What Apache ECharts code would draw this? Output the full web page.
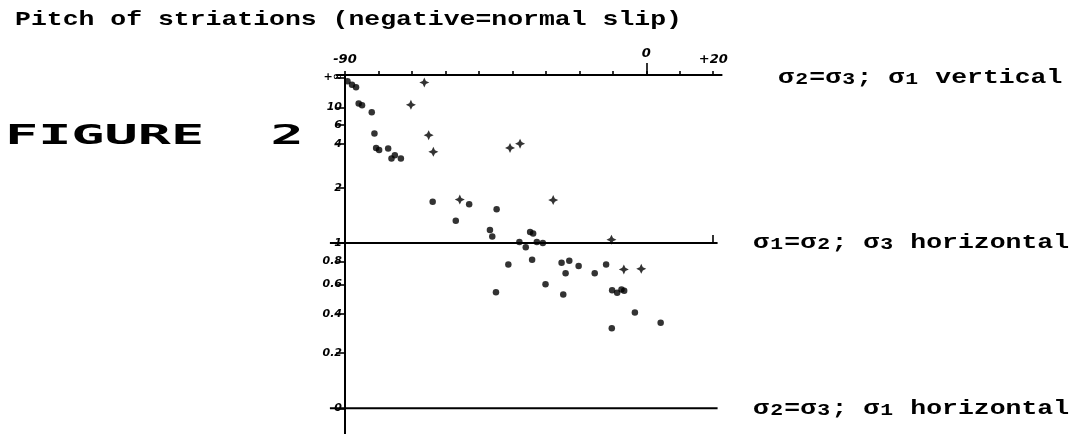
<!DOCTYPE html>
<html>
<head>
<meta charset="utf-8">
<script src="https://cdn.jsdelivr.net/npm/echarts@6/dist/echarts.min.js"></script>
<style>
  html, body { margin: 0; padding: 0; background: #fff; }
  #chart { width: 1080px; height: 434px; }
</style>
</head>
<body>
<div id="chart"></div>
<script>
// Pitch of striations (degrees) on the x axis, stress ratio R on the y axis.
const pitchTicks = [-90, -80, -70, -60, -50, -40, -30, -20, -10, 0, 10, 20];
const pitchMajor = [-90, 20];
const pitchZero = [0];
const ratioTicks = [0, 0.2, 0.4, 0.6, 0.8, 1, 2, 4, 6, 10, Infinity];
const ratioLabels = ['0', '0.2', '0.4', '0.6', '0.8', '1', '2', '4', '6', '10', '+\u221e'];

// Measurements shown as dots
const dotPitch = [-89.25, -87.9, -86.7, -85.9, -84.9, -82.0, -81.2, -80.7, -79.8, -77.1,
  -76.1, -75.1, -73.3, -63.8, -56.9, -52.9, -44.7, -46.7, -46.0, -37.9,
  -36.0, -34.7, -33.8, -32.7, -30.9, -41.2, -34.1, -25.3, -23.0, -24.1,
  -20.2, -15.4, -12.0, -44.9, -30.1, -24.8, -10.2, -8.7, -7.4, -6.6,
  -3.4, 4.3, -10.3];
const dotRatio = [88, 45, 33, 11.7, 10.9, 8.5, 4.9, 3.7, 3.57, 3.66,
  3.09, 3.26, 3.09, 1.66, 1.31, 1.61, 1.51, 1.17, 1.08, 1.01,
  0.95, 1.14, 1.12, 1.01, 1.0, 0.77, 0.815, 0.785, 0.805, 0.69,
  0.754, 0.69, 0.77, 0.54, 0.60, 0.525, 0.556, 0.537, 0.561, 0.551,
  0.408, 0.349, 0.32];

// Measurements shown as crosses
const plusPitch = [-66.3, -70.3, -65.0, -63.6, -55.7, -40.7, -37.7, -27.8, -10.4, -6.7, -1.5];
const plusRatio = [65, 11.1, 4.74, 3.45, 1.71, 3.7, 4.0, 1.7, 1.04, 0.724, 0.729];

// Reference states of stress
const guideRatios = [Infinity, 1, 0];
const guideNotes = [
  '\u03c3{s|2}=\u03c3{s|3}; \u03c3{s|1} vertical',
  '\u03c3{s|1}=\u03c3{s|2}; \u03c3{s|3} horizontal',
  '\u03c3{s|2}=\u03c3{s|3}; \u03c3{s|1} horizontal'
];
const guideLineRatios = [1, 0];

// R is drawn on the (R-1)/(R+1) scale: 0 -> -1, 1 -> 0, infinity -> +1
function ratioToScale(r) {
  return r === Infinity ? 1 : (r - 1) / (r + 1);
}
const scaleTicks = ratioTicks.map(ratioToScale);
function scaleLabel(v) {
  for (let i = 0; i < scaleTicks.length; i++) {
    if (Math.abs(scaleTicks[i] - v) < 1e-6) return ratioLabels[i];
  }
  return '';
}

const X_MIN = -92.5, X_MAX = 22.5;
const printFont = { fontFamily: '"Liberation Mono", monospace', fontWeight: 'bold' };
const tickFont = { fontFamily: '"DejaVu Sans", sans-serif', fontStyle: 'italic', fontWeight: 'bold', fontSize: 11, color: '#000' };
const PRINT_SIZE = 21;
const PRINT_STRETCH = 1.26;

const chart = echarts.init(document.getElementById('chart'), null, { renderer: 'canvas' });

function extraTopAxis(values, len, margin, labels) {
  return {
    type: 'value', position: 'top', min: X_MIN, max: X_MAX,
    axisLine: { show: false },
    splitLine: { show: false },
    axisTick: { show: true, inside: false, length: len, customValues: values,
      lineStyle: { color: '#000', width: 1.6 } },
    axisLabel: Object.assign({ show: true, customValues: values, margin: margin,
      formatter: function (v) { return labels[values.indexOf(Math.round(v))] || ''; } }, tickFont, { fontSize: 13 })
  };
}

chart.setOption({
  animation: false,
  backgroundColor: '#fff',
  grid: { left: 336.6, right: 358.4, top: 75, bottom: 0, containLabel: false },
  xAxis: [
    {
      type: 'value', position: 'top', min: X_MIN, max: X_MAX,
      axisLine: { show: true, onZero: false, lineStyle: { color: '#000', width: 2 } },
      splitLine: { show: false },
      axisTick: { show: true, inside: false, length: 4, customValues: pitchTicks,
        lineStyle: { color: '#000', width: 1.6 } },
      axisLabel: { show: false }
    },
    extraTopAxis(pitchMajor, 8, 9, ['-90', '+20']),
    extraTopAxis(pitchZero, 12, 15, ['0'])
  ],
  yAxis: {
    type: 'value', min: -1.155, max: 1.015, offset: -8.4,
    axisLine: { show: true, onZero: false, lineStyle: { color: '#000', width: 2 } },
    splitLine: { show: false },
    axisTick: { show: true, inside: false, length: 9, customValues: scaleTicks,
      lineStyle: { color: '#000', width: 1.6 } },
    axisLabel: Object.assign({ show: true, customValues: scaleTicks, margin: 3,
      formatter: scaleLabel }, tickFont)
  },
  series: [
    {
      type: 'scatter', xAxisIndex: 0, yAxisIndex: 0,
      symbol: 'circle', symbolSize: 6.5,
      itemStyle: { color: '#000' },
      data: dotPitch.map(function (p, i) { return [p, ratioToScale(dotRatio[i])]; })
    },
    {
      type: 'scatter', xAxisIndex: 0, yAxisIndex: 0,
      symbol: 'path://M5,0 L6.6,3.4 L10,5 L6.6,6.6 L5,10 L3.4,6.6 L0,5 L3.4,3.4 Z',
      symbolSize: 10,
      itemStyle: { color: '#000' },
      data: plusPitch.map(function (p, i) { return [p, ratioToScale(plusRatio[i])]; })
    }
  ]
});

// Reference lines and captions placed through the chart's own scales
function px(x, r) {
  return chart.convertToPixel({ xAxisIndex: 0, yAxisIndex: 0 }, [x, ratioToScale(r)]);
}
const graphics = [];
guideLineRatios.forEach(function (r) {
  const a = px(-94.5, r), b = px(21.3, r);
  graphics.push({ type: 'line', shape: { x1: a[0], y1: a[1], x2: b[0], y2: b[1] },
    style: { stroke: '#000', lineWidth: 2 } });
});
const noteLeft = [778, 753, 753];
guideRatios.forEach(function (r, i) {
  const p = px(0, r);
  graphics.push({
    type: 'text', x: noteLeft[i], y: p[1], scaleX: PRINT_STRETCH,
    style: Object.assign({
      text: guideNotes[i], fontSize: PRINT_SIZE, fill: '#000', verticalAlign: 'middle',
      rich: { s: Object.assign({ fontSize: 17, verticalAlign: 'bottom', fill: '#000',
        padding: [0, 1, 0, 1] }, printFont) }
    }, printFont)
  });
});
graphics.push({
  type: 'text', x: 15, y: 20, scaleX: PRINT_STRETCH,
  style: Object.assign({ text: 'Pitch of striations (negative=normal slip)', fontSize: PRINT_SIZE,
    fill: '#000', verticalAlign: 'middle' }, printFont)
});
graphics.push({
  type: 'text', x: 5, y: 137, scaleX: 2.12,
  style: { text: 'FIGURE  2', fontFamily: '"DejaVu Sans Mono", monospace', fontWeight: 'bold',
    fontSize: 26, fill: '#000', verticalAlign: 'middle' }
});
chart.setOption({ graphic: graphics });
</script>
</body>
</html>
